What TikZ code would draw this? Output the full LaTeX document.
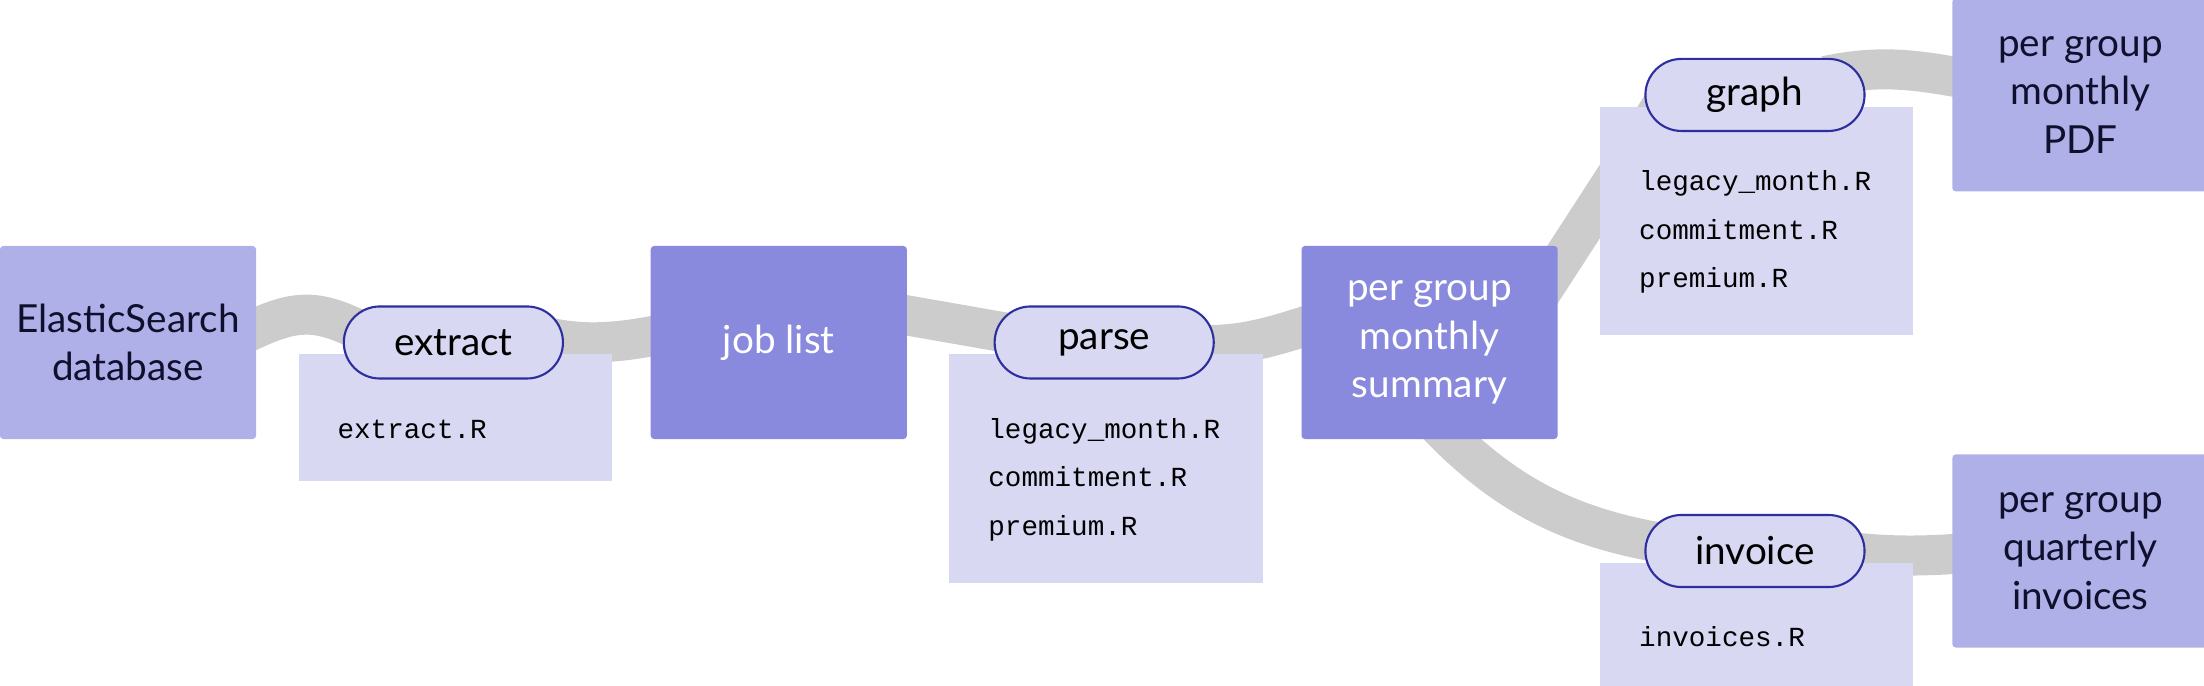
\documentclass[tikz,border=0pt]{standalone}
\usepackage{fontspec}
\setmainfont{Lato}
\setmonofont{Liberation Mono}
\usetikzlibrary{positioning,calc,backgrounds}
\definecolor{storefill}{HTML}{B0B0E8}
\definecolor{datafill}{HTML}{8989DD}
\definecolor{taskfill}{HTML}{D8D8F2}
\definecolor{taskline}{HTML}{2E2E9E}
\definecolor{flowgray}{HTML}{CCCCCC}
\definecolor{inkdark}{HTML}{10102E}

\begin{document}
\begin{tikzpicture}
[x=0.01cm, y=0.01cm, node distance=3.93cm, font=\fontsize{11}{13.7}\selectfont]
\tikzstyle{store}=[rectangle, fill=storefill, text=inkdark, rounded corners=1pt, minimum width=2.56cm, minimum height=1.93cm, align=center, inner sep=2pt]
\tikzstyle{data}=[store, fill=datafill, text=white]
\tikzstyle{task}=[rectangle, draw=taskline, line width=0.6pt, fill=taskfill, rounded corners=0.36cm, minimum width=2.19cm, minimum height=0.72cm, inner sep=0pt]
\tikzstyle{scripts}=[rectangle, fill=taskfill, anchor=north west, text width=2.35cm, inner xsep=0.39cm, inner ysep=0.42cm, align=left, font=\fontsize{7.85}{13.8}\selectfont\ttfamily]
\tikzstyle{flow}=[draw=flowgray, line width=0.4cm]

\useasboundingbox (0,0) rectangle (2204,686);

% data stores
\node[store]	(ES)	at (128,343.5)	{ElasticSearch\\database};
\node[data]	(jobs)		[right=of ES]	{job list};
\node[data]	(summary)	[right=of jobs]	{per group\\monthly\\summary};
\node[store]	(pdf)		[above right=0.53cm and 3.93cm of summary]	{per group\\monthly\\PDF};
\node[store]	(quarterly)	[below right=0.14cm and 3.93cm of summary]	{per group\\quarterly\\invoices};

% steps and their scripts
\coordinate (extractpos) at ($(ES.east)!0.5!(jobs.west)$);
\coordinate (parsepos)   at ($(jobs.east)!0.5!(summary.west)$);
\coordinate (graphpos)   at ($(summary.east |- pdf.west)!0.5!(pdf.west)$);
\coordinate (invoicepos) at ($(summary.east |- quarterly.west)!0.5!(quarterly.west)$);

\node[scripts]	(extractR)	at ([shift={(-155.5,-11)}]extractpos)	{\rule{0pt}{0.42cm}extract.R};
\node[scripts]	(parseR)	at ([shift={(-155.5,-11)}]parsepos)	{\rule{0pt}{0.42cm}legacy\_month.R\\commitment.R\\premium.R};
\node[scripts]	(graphR)	at ([shift={(-155.5,-11)}]graphpos)	{\rule{0pt}{0.42cm}legacy\_month.R\\commitment.R\\premium.R};
\node[scripts]	(invoiceR)	at ([shift={(-155.5,-11)}]invoicepos)	{\rule{0pt}{0.42cm}invoices.R};

\node[task]	(extract)	at (extractpos)	{extract};
\node[task]	(parse)		at (parsepos)	{parse};
\node[task]	(graph)		at (graphpos)	{graph};
\node[task]	(invoice)	at (invoicepos)	{invoice};

% flows
\begin{scope}[on background layer]
\draw[flow] ([shift={(-30,0)}]ES.east) to[out=27, in=151, looseness=1.3] ([shift={(40,0)}]extract.west);
\draw[flow] ([shift={(-50,15)}]extract.east) to[out=-20, in=192] ([shift={(40,14)}]jobs.west);
\draw[flow] ([shift={(-40,34)}]jobs.east) -- ([shift={(40,5)}]parse.west);
\draw[flow] ([shift={(-40,0)}]parse.east) to[out=-8, in=197] ([shift={(40,27.5)}]summary.west);
\draw[flow] ([shift={(-27,-62)}]summary.north east) -- ([shift={(24.5,0)}]graph.west);
\draw[flow] ([shift={(-40,19)}]graph.east) to[out=12, in=170] ([shift={(40,11.5)}]pdf.west);
\draw[flow] ([shift={(-7,31)}]summary.south) to[out=-48, in=172] ([shift={(40,4.5)}]invoice.west);
\draw[flow] ([shift={(-40,2)}]invoice.east) to[out=-8, in=185] ([shift={(40,0)}]quarterly.west);
\end{scope}
\end{tikzpicture}
\end{document}
